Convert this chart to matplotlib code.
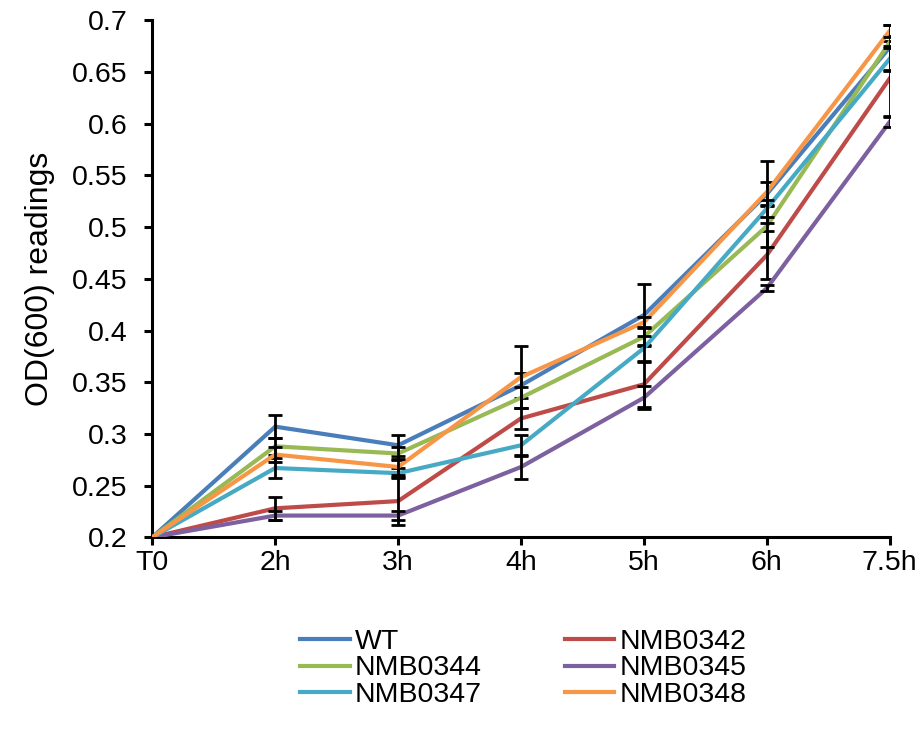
import numpy as np
import matplotlib
matplotlib.use("Agg")
from matplotlib import pyplot as plt

plt.rcParams['font.family'] = ['Liberation Sans', 'DejaVu Sans']

# categories on the x axis
hours = ['T0', '2h', '3h', '4h', '5h', '6h', '7.5h']

# OD(600) means per strain
wt = [0.200, 0.307, 0.289, 0.347, 0.415, 0.532, 0.674]
nmb0342 = [0.200, 0.228, 0.235, 0.315, 0.348, 0.473, 0.644]
nmb0344 = [0.200, 0.288, 0.281, 0.335, 0.394, 0.501, 0.679]
nmb0345 = [0.200, 0.221, 0.221, 0.268, 0.335, 0.441, 0.602]
nmb0347 = [0.200, 0.267, 0.262, 0.289, 0.383, 0.518, 0.663]
nmb0348 = [0.200, 0.280, 0.268, 0.355, 0.408, 0.534, 0.690]

# error bar half widths
wt_err = [0, 0.011, 0.010, 0.012, 0.030, 0.012, 0.022]
nmb0342_err = [0, 0.011, 0.023, 0.010, 0.022, 0.023, 0.036]
nmb0344_err = [0, 0.008, 0.006, 0.010, 0.008, 0.020, 0.006]
nmb0345_err = [0, 0.004, 0.004, 0.012, 0.011, 0.003, 0.005]
nmb0347_err = [0, 0.010, 0.005, 0.010, 0.012, 0.008, 0.012]
nmb0348_err = [0, 0.007, 0.008, 0.030, 0.005, 0.030, 0.006]

series = [
    ('WT', wt, wt_err, '#4A7EBB'),
    ('NMB0342', nmb0342, nmb0342_err, '#BE4B48'),
    ('NMB0344', nmb0344, nmb0344_err, '#98B954'),
    ('NMB0345', nmb0345, nmb0345_err, '#7D60A0'),
    ('NMB0347', nmb0347, nmb0347_err, '#46AAC5'),
    ('NMB0348', nmb0348, nmb0348_err, '#F79646'),
]

fig = plt.figure(figsize=(9.23, 7.29), dpi=100)
ax = fig.add_axes([0.165, 0.263, 0.799, 0.709])

x = np.arange(len(hours))
handles = {}
for i, (name, vals, errs, col) in enumerate(series):
    line, = ax.plot(x, vals, color=col, lw=3.0, solid_joinstyle='miter',
                    zorder=2 + i, label=name)
    ax.errorbar(x[1:], vals[1:], yerr=errs[1:], fmt='none', ecolor='black',
                elinewidth=2, capsize=5, capthick=2, zorder=2 + i)
    handles[name] = line

ax.set_xlim(0, len(hours) - 1)
ax.set_ylim(0.2, 0.7)
ax.set_xticks(x)
ax.set_xticklabels(hours)
ax.set_yticks(np.arange(0.2, 0.701, 0.05))
ax.set_yticklabels(['0.2', '0.25', '0.3', '0.35', '0.4', '0.45', '0.5',
                    '0.55', '0.6', '0.65', '0.7'])

for side in ['top', 'right']:
    ax.spines[side].set_visible(False)
for side in ['left', 'bottom']:
    ax.spines[side].set_linewidth(2.2)
ax.tick_params(axis='both', direction='out', length=6, width=2.2,
               labelsize=20.5)
ax.tick_params(axis='y', pad=12)
ax.tick_params(axis='x', pad=3)
ax.set_ylabel('OD(600) readings', fontsize=23, labelpad=12)

# legend filled row-wise like the original
order = ['WT', 'NMB0344', 'NMB0347', 'NMB0342', 'NMB0345', 'NMB0348']
fig.legend([handles[n] for n in order], order, ncol=2, frameon=False,
           loc='center', bbox_to_anchor=(0.567, 0.083), fontsize=20.5,
           handlelength=1.75, handletextpad=0.17, columnspacing=2.9,
           labelspacing=0.02, borderpad=0)

fig.savefig('out.png', dpi=100)
